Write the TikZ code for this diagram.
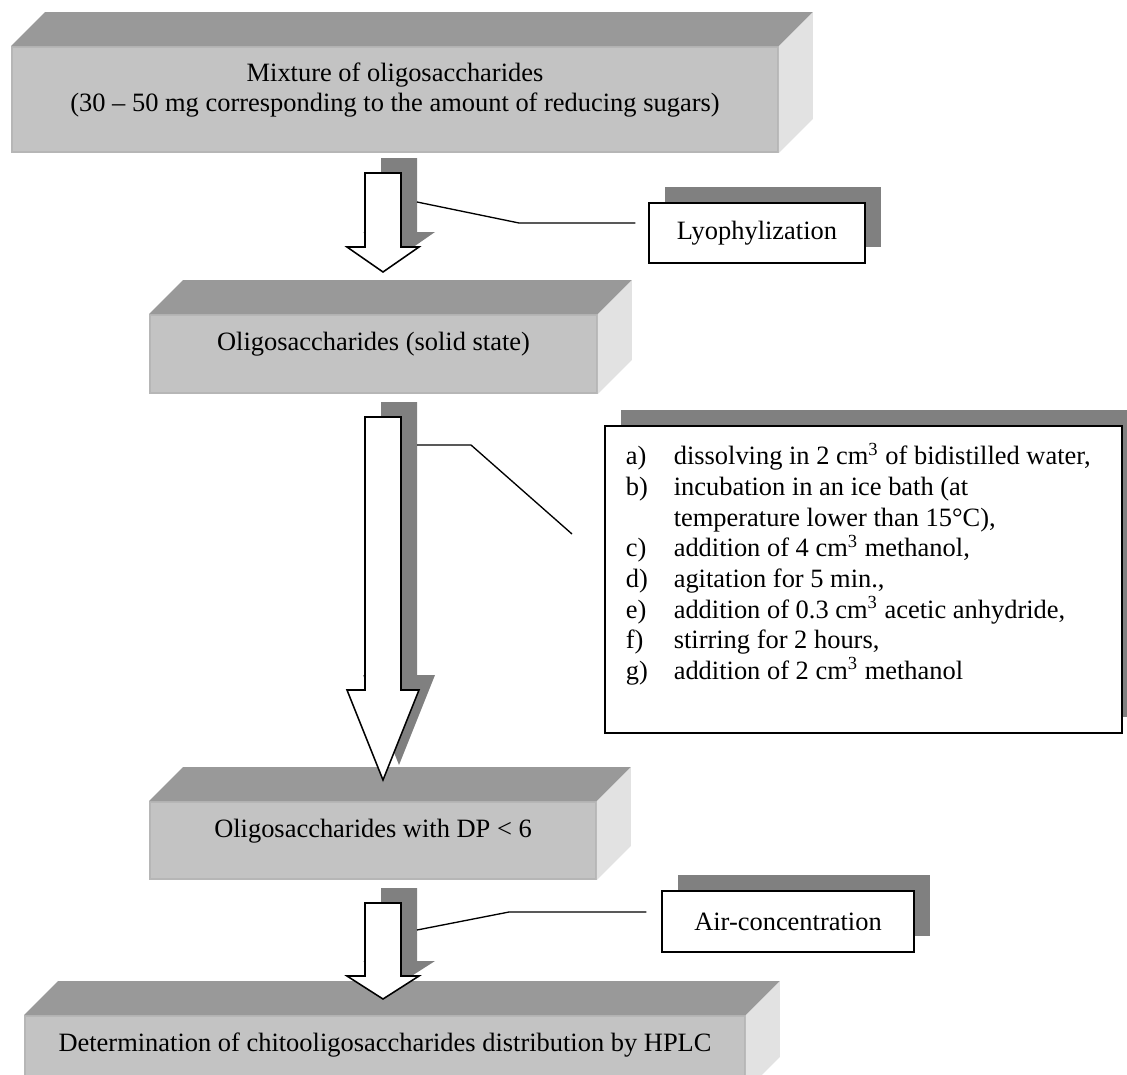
\documentclass[tikz,border=0pt]{standalone}
\usepackage{fontspec}
\setmainfont{Liberation Serif}
\usepackage{tikz}
\usetikzlibrary{positioning,calc,fit,shadows}
\definecolor{topgray}{RGB}{153,153,153}
\definecolor{frontgray}{RGB}{195,195,195}
\definecolor{edgegray}{RGB}{182,182,182}
\definecolor{sidegray}{RGB}{226,226,226}
\definecolor{shadowgray}{RGB}{128,128,128}
\tikzset{
  front-face/.style={fill=frontgray, draw=edgegray, line width=0.8pt, inner sep=0pt},
  top-face/.style={fill=topgray},
  side-face/.style={fill=sidegray},
  face-text/.style={font=\fontsize{11.9}{13.8}\selectfont, align=center, inner sep=0pt},
  note-box/.style={draw=black, line width=0.6pt, fill=white, inner sep=0pt,
    font=\fontsize{11.9}{13.8}\selectfont,
    drop shadow={shadow xshift=7.2pt, shadow yshift=7.2pt, fill=shadowgray, opacity=1}},
  list-text/.style={font=\fontsize{11.9}{13.8}\selectfont, align=left, inner sep=0pt},
  flow-arrow/.style={draw=black, line width=0.7pt, fill=white},
  arrow-shadow/.style={fill=shadowgray},
  callout/.style={draw=black, line width=0.6pt}
}
% slab: front face node, then its top and side faces
\newcommand{\slab}[3]{%
  \node[front-face, fit={#2 #3}] (#1) {};
  \fill[top-face] (#1.north west) -- ++(34,-34) -- ($(#1.north east)+(34,-34)$) -- (#1.north east) -- cycle;
  \fill[side-face] (#1.north east) -- ++(34,-34) -- ($(#1.south east)+(34,-34)$) -- (#1.south east) -- cycle;
}
% hollow down arrow with shadow: x, shaft top, head base, tip
\newcommand{\flowdown}[4]{%
  \fill[arrow-shadow] (#1-2,#2-15) -- (#1+34,#2-15) -- (#1+34,#3-15) -- (#1+52,#3-15) -- (#1+16,#4-15) -- (#1-20,#3-15) -- (#1-2,#3-15) -- cycle;
  \draw[flow-arrow] (#1-18,#2) -- (#1+18,#2) -- (#1+18,#3) -- (#1+36,#3) -- (#1,#4) -- (#1-36,#3) -- (#1-18,#3) -- cycle;
}
\newcommand{\steplabel}[1]{\makebox[21.6pt][l]{#1}}
\begin{document}
\begin{tikzpicture}[x=0.45pt, y=-0.45pt]
\useasboundingbox (0,0) rectangle (1127,1074);

% Stage slabs
\slab{mix}{(12,47)}{(778,152)}
\slab{solid}{(150,315)}{(597,393)}
\slab{dp}{(150,802)}{(596,879)}
\slab{hplc}{(25,1016)}{(745,1090)}

% Slab captions
\node[face-text, anchor=north] (mix-text) at ($(mix.north)+(0,16)$)
  {Mixture of oligosaccharides\\(30 -- 50 mg corresponding to the amount of reducing sugars)};
\node[face-text, anchor=base] (solid-text) at ($(solid.north)+(0,36)$) {Oligosaccharides (solid state)};
\node[face-text, anchor=base] (dp-text) at ($(dp.north)+(0,36)$) {Oligosaccharides with DP < 6};
\node[face-text, anchor=base] (hplc-text) at ($(hplc.north)+(0,36)$)
  {Determination of chitooligosaccharides distribution by HPLC};

% Flow arrows
\flowdown{383}{173}{247}{272}
\flowdown{383}{417}{690}{780}
\flowdown{383}{903}{976}{999}

% Side notes
\node[note-box, minimum width=97.2pt, minimum height=27pt] (lyo) at (757,233) {Lyophylization};
\node[note-box, minimum width=113.4pt, minimum height=27.5pt] (air) at (788,921.5) {Air-concentration};
\node[note-box, fit={(605,426) (1122,733)}] (steps) {};
\node[list-text, anchor=north west] (step-list) at ($(steps.north west)+(21,17)$)
  {\steplabel{a)}dissolving in 2 cm\textsuperscript{3} of bidistilled water,\\
   \steplabel{b)}incubation in an ice bath (at\\
   \hspace*{21.6pt}temperature lower than 15°C),\\
   \steplabel{c)}addition of 4 cm\textsuperscript{3} methanol,\\
   \steplabel{d)}agitation for 5 min.,\\
   \steplabel{e)}addition of 0.3 cm\textsuperscript{3} acetic anhydride,\\
   \steplabel{f)}stirring for 2 hours,\\
   \steplabel{g)}addition of 2 cm\textsuperscript{3} methanol};

% Callout lines
\coordinate (lyo-from) at (417,202);
\coordinate (lyo-to) at ($(lyo.west)+(-13,-10)$);
\draw[callout] (lyo-from) -- (519,223) -- (lyo-to);
\coordinate (steps-from) at (417,445);
\coordinate (steps-to) at (572,534);
\draw[callout] (steps-from) -- (471,445) -- (steps-to);
\coordinate (air-from) at (417,930);
\coordinate (air-to) at ($(air.west)+(-15,-9.5)$);
\draw[callout] (air-from) -- (509,912) -- (air-to);
\end{tikzpicture}
\end{document}
